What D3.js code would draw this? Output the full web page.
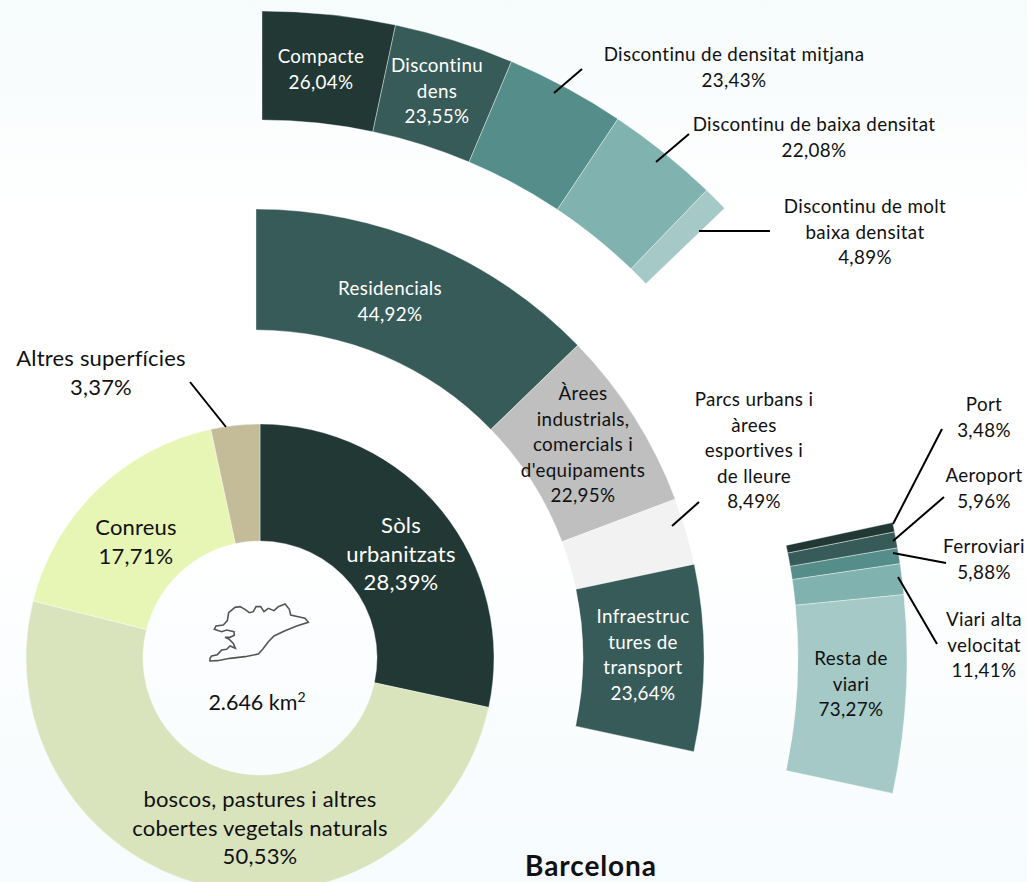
<!DOCTYPE html>
<html>
<head>
<meta charset="utf-8">
<script src="https://cdn.jsdelivr.net/npm/d3@7"></script>
<style>
  html, body { margin: 0; padding: 0; background: #fff; overflow: hidden; }
  text { font-family: Lato, "Noto Sans", sans-serif; text-anchor: middle; }
</style>
</head>
<body>
<div id="chart"></div>
<script>
// land use of Barcelona, main pie and the three breakdown rings
const landNames = ["Sòls\nurbanitzats", "boscos, pastures i altres\ncobertes vegetals naturals", "Conreus", "Altres superfícies"];
const landValues = [28.39, 50.53, 17.71, 3.37];

const urbanNames = ["Residencials", "Àrees\nindustrials,\ncomercials i\nd'equipaments", "Parcs urbans i\nàrees\nesportives i\nde lleure", "Infraestruc\ntures de\ntransport"];
const urbanValues = [44.92, 22.95, 8.49, 23.64];

const resiNames = ["Compacte", "Discontinu\ndens", "Discontinu de densitat mitjana", "Discontinu de baixa densitat", "Discontinu de molt\nbaixa densitat"];
const resiValues = [26.04, 23.55, 23.43, 22.08, 4.89];

const infraNames = ["Port", "Aeroport", "Ferroviari", "Viari alta\nvelocitat", "Resta de\nviari"];
const infraValues = [3.48, 5.96, 5.88, 11.41, 73.27];

const totalArea = "2.646";
const title = "Barcelona";

// municipal outline
const outline = [[240,295],[245,288],[262,284],[275,270],[290,268],[300,258],[316,265],[310,250],[298,238],[285,232],[300,232],[313,226],[312,215],[290,210],[275,215],[253,208],[258,198],[280,195],[292,182],[296,158],[315,142],[330,140],[345,148],[358,158],[370,155],[378,140],[392,140],[402,155],[415,145],[432,152],[445,140],[465,132],[478,148],[482,165],[505,170],[525,175],[535,187],[500,198],[465,212],[432,228],[415,245],[398,268],[385,282],[345,290],[300,295],[262,302],[240,303]];

const landColors = ["#223835", "#d9e4bd", "#e7f6b4", "#c4bc98"];
const urbanColors = ["#375b58", "#bfbfbf", "#f2f2f2", "#375b58"];
const detailColors = ["#223835", "#375b58", "#548d89", "#80b3b0", "#a5c9c6"];

const width = 1027, height = 882;
const bigFont = 22, smallFont = 18.8, lineGap = 25.5;

const percent = d3.formatLocale({decimal: ",", thousands: ".", grouping: [3], currency: ["", ""]}).format(".2f");
const turn = 2 * Math.PI;

const svg = d3.select("#chart")
  .append("svg")
    .attr("width", width)
    .attr("height", height)
    .style("display", "block");

const grad = svg.append("defs").append("linearGradient")
    .attr("id", "bg")
    .attr("x1", 0).attr("x2", 0).attr("y1", 0).attr("y2", 1);
grad.append("stop").attr("offset", "0%").attr("stop-color", "#f6fbfc");
grad.append("stop").attr("offset", "25%").attr("stop-color", "#ffffff");
grad.append("stop").attr("offset", "60%").attr("stop-color", "#ffffff");
grad.append("stop").attr("offset", "100%").attr("stop-color", "#f6fbfd");

svg.append("rect")
    .attr("width", width)
    .attr("height", height)
    .attr("fill", "url(#bg)");

function drawRing(values, colors, cx, cy, inner, outer, a0, a1){
  const pie = d3.pie().sort(null).startAngle(a0).endAngle(a1);
  const arc = d3.arc().innerRadius(inner).outerRadius(outer);
  svg.append("g")
      .attr("transform", `translate(${cx},${cy})`)
    .selectAll("path")
    .data(pie(values))
    .join("path")
      .attr("d", arc)
      .attr("fill", (d, i) => colors[i])
      .attr("stroke", "#ffffff")
      .attr("stroke-opacity", 0.55)
      .attr("stroke-width", 0.7);
}

// the breakdown rings take their sweep from the slice they explain
const urbanSweep = turn * landValues[0] / 100;
const resiSweep = urbanSweep * urbanValues[0] / 100 * 1.006;
const infraSweep = urbanSweep * urbanValues[3] / 100;

drawRing(landValues, landColors, 260, 658, 117, 234, 0, turn);
drawRing(urbanValues, urbanColors, 256, 657, 327, 448, 0, urbanSweep);
drawRing(resiValues, detailColors, 262, 652, 532, 641, 0, resiSweep);
drawRing(infraValues, detailColors, 260, 658, 538, 647, turn / 4 - infraSweep / 2, turn / 4 + infraSweep / 2);

// leader lines, [x1, y1, x2, y2]
const leaders = [
  [190, 382, 226, 427],
  [554, 93, 582, 69],
  [656, 162, 689, 134],
  [699, 231, 770, 231],
  [672, 526, 699, 502],
  [893, 524, 942, 429],
  [893, 541, 944, 497],
  [893, 553, 946, 563],
  [898, 577, 937, 644]
];
svg.append("g")
  .selectAll("line")
  .data(leaders)
  .join("line")
    .attr("x1", d => d[0])
    .attr("y1", d => d[1])
    .attr("x2", d => d[2])
    .attr("y2", d => d[3])
    .attr("stroke", "#000")
    .attr("stroke-width", 2);

function drawLabel(name, value, x, y, size, color){
  const lines = name.split("\n").concat(percent(value) + "%");
  const t = svg.append("text")
      .attr("font-size", size)
      .attr("letter-spacing", size == bigFont ? 0.2 : 0.35)
      .attr("fill", color);
  lines.forEach(function(line, i){
    t.append("tspan")
        .attr("x", x)
        .attr("y", y + i * (size == bigFont ? 28.5 : lineGap))
        .text(line);
  });
}

// label anchors: centre x and first baseline
const landPos = [[401, 533], [260, 807], [136, 535], [101, 366]];
const urbanPos = [[390, 295], [583, 400], [754, 406], [643, 623]];
const resiPos = [[321, 63], [437, 72], [734, 61], [814, 131], [865, 213]];
const infraPos = [[984, 411], [984, 482], [984, 553], [984, 626], [851, 665]];

landNames.forEach((n, i) => drawLabel(n, landValues[i], landPos[i][0], landPos[i][1], bigFont, i == 0 ? "#fff" : "#111"));
urbanNames.forEach((n, i) => drawLabel(n, urbanValues[i], urbanPos[i][0], urbanPos[i][1], smallFont, (i == 0 || i == 3) ? "#fff" : "#111"));
resiNames.forEach((n, i) => drawLabel(n, resiValues[i], resiPos[i][0], resiPos[i][1], smallFont, i < 2 ? "#fff" : "#111"));
infraNames.forEach((n, i) => drawLabel(n, infraValues[i], infraPos[i][0], infraPos[i][1], smallFont, "#111"));

// outline and total area in the hole
const ox = d3.scaleLinear().domain([0, 780]).range([130, 390]);
const oy = d3.scaleLinear().domain([0, 600]).range([560, 760]);
svg.append("path")
    .datum(outline)
    .attr("d", d3.line().x(d => ox(d[0])).y(d => oy(d[1])).curve(d3.curveLinearClosed))
    .attr("fill", "none")
    .attr("stroke", "#555")
    .attr("stroke-width", 1.6);

const area = svg.append("text")
    .attr("x", 257)
    .attr("y", 710)
    .attr("font-size", 21.5)
    .attr("fill", "#111");
area.append("tspan").text(totalArea + " km");
area.append("tspan").attr("dy", -8).attr("font-size", 14).text("2");

svg.append("text")
    .attr("x", 591)
    .attr("y", 876)
    .attr("font-size", 28)
    .attr("letter-spacing", 0.9)
    .attr("font-weight", "bold")
    .attr("fill", "#111")
    .text(title);
</script>
</body>
</html>
